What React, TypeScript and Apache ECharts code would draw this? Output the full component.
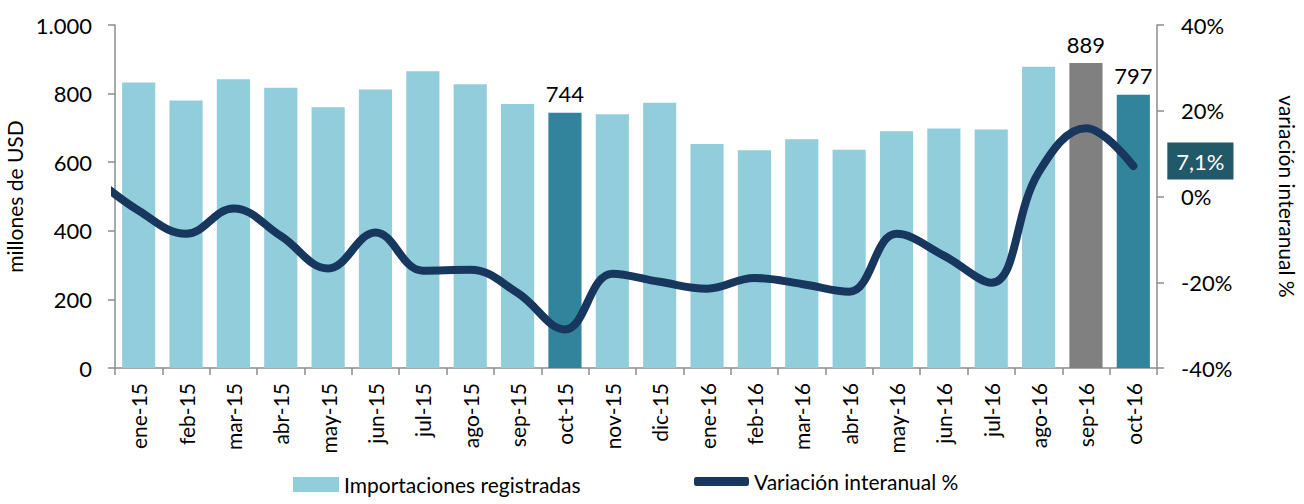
import React, { useEffect, useRef } from "react";
import * as echarts from "echarts";

const categories = ["ene-15","feb-15","mar-15","abr-15","may-15","jun-15","jul-15","ago-15","sep-15","oct-15","nov-15","dic-15","ene-16","feb-16","mar-16","abr-16","may-16","jun-16","jul-16","ago-16","sep-16","oct-16"];
const imports = [832,780,842,817,760,812,865,827,770,744,740,773,653,635,667,636,690,698,695,878,889,797];
// leading value for dic-14 (only partly visible at the left edge)
const variationPrev = 5;
const variation = [-3.3,-8.7,-2.8,-9.2,-16.8,-8.4,-17.3,-17.1,-22.5,-31,-18,-19.9,-21.5,-19,-20.4,-22.2,-8.7,-13.8,-20.1,5.6,15.9,7.1];
const labeledBars = [9, 20, 21];
const barColors: Record<number, string> = { 9: "#31849B", 20: "#808080", 21: "#31849B" };

const FONT = "Lato";
const AXIS_COLOR = "#8c8c8c";

export default function App() {
  const ref = useRef<HTMLDivElement>(null);
  useEffect(() => {
    if (!ref.current) return;
    const chart = echarts.init(ref.current, null, { renderer: "svg" });
    const lineData: [number, number][] = [[-1, variationPrev]];
    variation.forEach((v, i) => lineData.push([i, v]));
    const lastLabel = variation[variation.length - 1].toFixed(1).replace(".", ",") + "%";
    chart.setOption({
      animation: false,
      textStyle: { fontFamily: FONT, color: "#000" },
      grid: { left: 115, right: 147, top: 25, bottom: 136, containLabel: false, outerBoundsMode: "none" },
      legend: [
        {
          left: 288, bottom: 4, itemWidth: 46, itemHeight: 15, itemGap: 10,
          textStyle: { fontSize: 21, color: "#000", fontFamily: FONT },
          data: [{ name: "Importaciones registradas", icon: "rect" }],
        },
        {
          left: 689, bottom: 7, itemWidth: 55, itemHeight: 9,
          textStyle: { fontSize: 21, color: "#000", fontFamily: FONT },
          data: [{ name: "Variación interanual %", icon: "roundRect" }],
        },
      ],
      xAxis: [
        {
          type: "category", data: categories, boundaryGap: true,
          axisLine: { onZero: false, lineStyle: { color: AXIS_COLOR, width: 1.5 } },
          axisTick: { show: true, alignWithLabel: false, length: 7, lineStyle: { color: AXIS_COLOR, width: 1.5 } },
          axisLabel: { rotate: 90, fontSize: 21, color: "#000", margin: 15, fontFamily: FONT },
        },
        { type: "value", min: -0.5, max: 21.5, show: false, axisLine: { onZero: false } },
      ],
      yAxis: [
        {
          type: "value", min: 0, max: 1000, interval: 200,
          name: "millones de USD", nameLocation: "middle", nameGap: 80, nameRotate: 90,
          nameTextStyle: { fontSize: 21, color: "#000", fontFamily: FONT },
          axisLine: { show: true, onZero: false, lineStyle: { color: AXIS_COLOR, width: 1.5 } },
          axisTick: { show: true, length: 7, lineStyle: { color: AXIS_COLOR, width: 1.5 } },
          splitLine: { show: false },
          axisLabel: {
            fontSize: 22, color: "#000", margin: 23, fontFamily: FONT,
            formatter: (v: number) => v.toLocaleString("de-DE"),
          },
        },
        {
          type: "value", min: -40, max: 40, interval: 20, position: "right",
          name: "variación interanual %", nameLocation: "middle", nameGap: 120, nameRotate: -90,
          nameTextStyle: { fontSize: 21, color: "#000", fontFamily: FONT },
          axisLine: { show: true, onZero: false, lineStyle: { color: AXIS_COLOR, width: 1.5 } },
          axisTick: { show: true, length: 7, lineStyle: { color: AXIS_COLOR, width: 1.5 } },
          splitLine: { show: false },
          axisLabel: { fontSize: 22, color: "#000", margin: 24, fontFamily: FONT, formatter: "{value}%" },
        },
      ],
      series: [
        {
          name: "Importaciones registradas", type: "bar", xAxisIndex: 0, yAxisIndex: 0,
          barCategoryGap: "30%",
          itemStyle: { color: "#92CDDC" },
          data: imports.map((v, i) => ({
            value: v,
            itemStyle: barColors[i] ? { color: barColors[i] } : undefined,
            label: labeledBars.includes(i)
              ? { show: true, position: "top", distance: 8, fontSize: 22, color: "#000", fontFamily: FONT }
              : undefined,
          })),
        },
        {
          name: "Variación interanual %", type: "line", xAxisIndex: 1, yAxisIndex: 1,
          smooth: 0.4, clip: true, showSymbol: false, symbol: "circle", symbolSize: 0,
          lineStyle: { color: "#17375E", width: 8, cap: "round" },
          itemStyle: { color: "#17375E" },
          endLabel: {
            show: true, distance: 34, offset: [0, -5],
            formatter: () => lastLabel,
            backgroundColor: "#215968", color: "#fff", fontSize: 22, fontFamily: FONT,
            padding: [8, 9, 7, 9],
          },
          data: lineData,
        },
      ],
    });
    return () => chart.dispose();
  }, []);
  return <div ref={ref} style={{ position: "absolute", left: 0, top: 0, width: 1304, height: 504 }} />;
}
